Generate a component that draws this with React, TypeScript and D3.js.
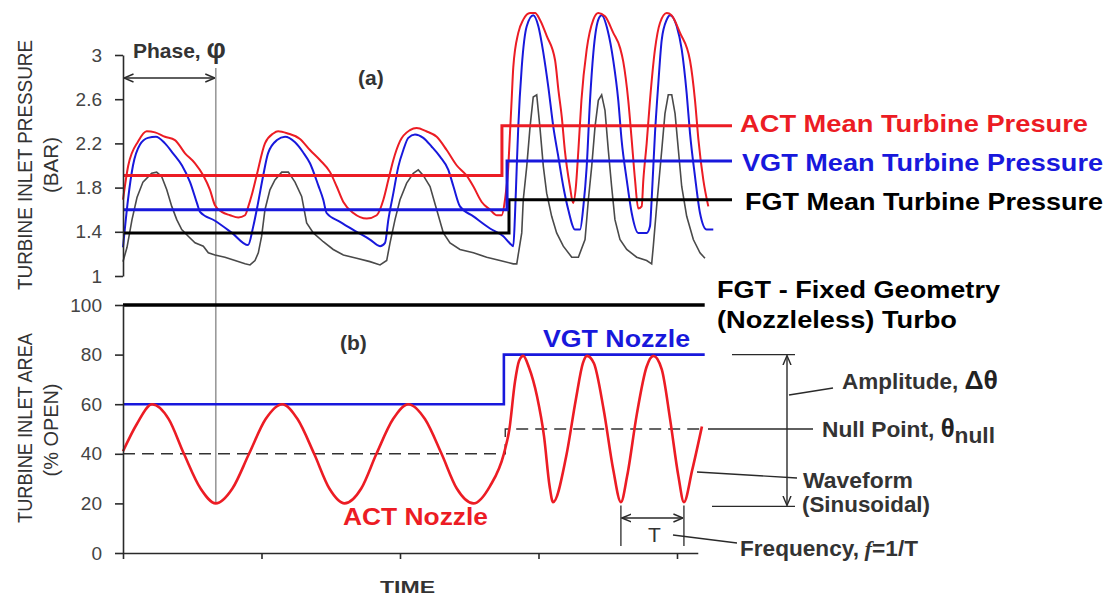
"use client"

import { useEffect, useRef } from "react"
import * as d3 from "d3"

type Pair = [number, number]

const WIDTH = 1115
const HEIGHT = 597
const FONT = "'Liberation Sans', Arial, Helvetica, sans-serif"
const RED = "#ec1c24"
const BLUE = "#1818dc"
const INK = "#2a2a2a"
const GRAY = "#4a4a4a"

const pressureTicks = [1, 1.4, 1.8, 2.2, 2.6, 3]
const areaTicks = [0, 20, 40, 60, 80, 100]
const timeTicks = [0, 1, 2, 3, 4]

// (a) turbine inlet pressure, [time, bar]
const actPressure: Pair[] = [
  [0, 1.69], [0.038, 2.0], [0.11, 2.22], [0.171, 2.31], [0.231, 2.3], [0.303, 2.26], [0.375, 2.23],
  [0.448, 2.11], [0.52, 2.02], [0.58, 1.91], [0.628, 1.78], [0.664, 1.64], [0.713, 1.58], [0.773, 1.55],
  [0.833, 1.53], [0.881, 1.55], [0.905, 1.63], [0.929, 1.73], [0.965, 1.91], [1.025, 2.2], [1.085, 2.29],
  [1.12, 2.31], [1.19, 2.29], [1.278, 2.24], [1.35, 2.14], [1.422, 2.05], [1.495, 1.94], [1.543, 1.81],
  [1.591, 1.67], [1.663, 1.57], [1.76, 1.52], [1.832, 1.55], [1.88, 1.69], [1.916, 1.87], [1.952, 2.05],
  [2.0, 2.22], [2.072, 2.32], [2.12, 2.34], [2.19, 2.31], [2.265, 2.26], [2.337, 2.14], [2.41, 2.0],
  [2.48, 1.91], [2.53, 1.81], [2.59, 1.67], [2.65, 1.6], [2.7, 1.55], [2.734, 1.55], [2.758, 1.69],
  [2.782, 1.99], [2.794, 2.29], [2.806, 2.59], [2.818, 2.89], [2.854, 3.2], [2.89, 3.32], [2.939, 3.38],
  [2.975, 3.38], [3.01, 3.32], [3.06, 3.17], [3.12, 2.95], [3.144, 2.68], [3.168, 2.44], [3.19, 2.14],
  [3.227, 1.81], [3.25, 1.66], [3.27, 1.81], [3.288, 2.14], [3.31, 2.59], [3.348, 3.05], [3.396, 3.32],
  [3.432, 3.38], [3.48, 3.35], [3.54, 3.2], [3.59, 3.06], [3.612, 2.94], [3.648, 2.59], [3.673, 2.23],
  [3.697, 1.87], [3.72, 1.61], [3.745, 1.63], [3.757, 1.87], [3.781, 2.2], [3.805, 2.59], [3.841, 3.05],
  [3.877, 3.29], [3.926, 3.38], [3.96, 3.36], [4.022, 3.2], [4.094, 2.95], [4.13, 2.59], [4.155, 2.23],
  [4.19, 1.87], [4.226, 1.63],
]

const vgtPressure: Pair[] = [
  [0, 1.26], [0.036, 1.69], [0.072, 2.0], [0.123, 2.19], [0.18, 2.25], [0.238, 2.26], [0.303, 2.2],
  [0.361, 2.11], [0.426, 2.0], [0.484, 1.85], [0.534, 1.66], [0.556, 1.58], [0.664, 1.5], [0.787, 1.39],
  [0.903, 1.28], [0.939, 1.44], [0.975, 1.66], [1.011, 1.9], [1.047, 2.11], [1.112, 2.23], [1.17, 2.26],
  [1.242, 2.21], [1.3, 2.12], [1.35, 2.02], [1.41, 1.82], [1.446, 1.69], [1.47, 1.57], [1.567, 1.49],
  [1.687, 1.4], [1.783, 1.33], [1.856, 1.27], [1.892, 1.3], [1.916, 1.51], [1.952, 1.75], [1.988, 1.99],
  [2.024, 2.14], [2.06, 2.25], [2.108, 2.28], [2.168, 2.25], [2.229, 2.17], [2.289, 2.08], [2.349, 1.96],
  [2.386, 1.81], [2.433, 1.63], [2.53, 1.54], [2.65, 1.43], [2.746, 1.36], [2.806, 1.28], [2.818, 1.27],
  [2.83, 1.54], [2.843, 1.99], [2.854, 2.35], [2.879, 2.89], [2.915, 3.26], [2.962, 3.36], [2.999, 3.26],
  [3.035, 3.02], [3.071, 2.71], [3.107, 2.35], [3.143, 2.08], [3.179, 1.81], [3.215, 1.6], [3.264, 1.42],
  [3.3, 1.42], [3.324, 1.63], [3.348, 1.99], [3.372, 2.59], [3.396, 3.02], [3.432, 3.32], [3.456, 3.36],
  [3.5, 3.22], [3.54, 2.95], [3.576, 2.59], [3.6, 2.23], [3.637, 1.87], [3.673, 1.57], [3.72, 1.39],
  [3.781, 1.39], [3.805, 1.45], [3.817, 1.69], [3.841, 2.29], [3.865, 2.74], [3.89, 3.14], [3.926, 3.32],
  [3.95, 3.36], [3.998, 3.26], [4.034, 3.05], [4.07, 2.65], [4.094, 2.29], [4.13, 1.9], [4.166, 1.57],
  [4.214, 1.42], [4.262, 1.42],
]

const fgtPressure: Pair[] = [
  [0, 1.13], [0.029, 1.26], [0.065, 1.51], [0.101, 1.71], [0.144, 1.85], [0.207, 1.93], [0.243, 1.94],
  [0.279, 1.9], [0.316, 1.78], [0.352, 1.63], [0.388, 1.51], [0.424, 1.42], [0.471, 1.36], [0.52, 1.3],
  [0.58, 1.27], [0.616, 1.21], [0.664, 1.19], [0.736, 1.17], [0.809, 1.14], [0.881, 1.11], [0.917, 1.1],
  [0.953, 1.14], [0.977, 1.21], [1.001, 1.36], [1.025, 1.6], [1.061, 1.78], [1.097, 1.87], [1.146, 1.94],
  [1.194, 1.94], [1.242, 1.85], [1.29, 1.72], [1.326, 1.48], [1.374, 1.39], [1.446, 1.31], [1.518, 1.24],
  [1.591, 1.19], [1.687, 1.16], [1.783, 1.13], [1.856, 1.1], [1.904, 1.14], [1.928, 1.3], [1.964, 1.51],
  [2.0, 1.69], [2.048, 1.84], [2.096, 1.93], [2.132, 1.96], [2.168, 1.91], [2.217, 1.81], [2.265, 1.6],
  [2.313, 1.39], [2.361, 1.3], [2.433, 1.24], [2.53, 1.21], [2.626, 1.17], [2.722, 1.14], [2.818, 1.11],
  [2.843, 1.11], [2.879, 1.39], [2.89, 1.69], [2.915, 1.99], [2.939, 2.35], [2.962, 2.62], [2.987, 2.64],
  [3.01, 2.35], [3.035, 1.99], [3.059, 1.75], [3.095, 1.54], [3.131, 1.39], [3.179, 1.27], [3.24, 1.17],
  [3.288, 1.17], [3.336, 1.33], [3.36, 1.69], [3.384, 1.99], [3.408, 2.35], [3.432, 2.59], [3.456, 2.64],
  [3.48, 2.5], [3.504, 2.14], [3.528, 1.81], [3.552, 1.51], [3.588, 1.33], [3.637, 1.24], [3.709, 1.17],
  [3.781, 1.14], [3.817, 1.11], [3.829, 1.27], [3.853, 1.63], [3.89, 2.14], [3.913, 2.47], [3.937, 2.64],
  [3.962, 2.64], [3.986, 2.47], [4.01, 2.14], [4.034, 1.81], [4.07, 1.54], [4.118, 1.33], [4.166, 1.21],
  [4.202, 1.16],
]

// mean pressures (step after)
const actMean: Pair[] = [[0, 1.91], [2.736, 2.36], [4.397, 2.36]]
const vgtMean: Pair[] = [[0, 1.6], [2.773, 2.04], [4.397, 2.04]]
const fgtMean: Pair[] = [[0, 1.39], [2.787, 1.69], [4.397, 1.69]]

// (b) turbine inlet area, [time, % open]
const fgtNozzle: Pair[] = [[0, 100], [4.2, 100]]
const vgtNozzle: Pair[] = [[0, 60], [2.75, 80], [4.2, 80]]
const nullPoint: Pair[] = [[0, 40], [2.76, 50], [4.2, 50]]
const actNozzle: Pair[] = [
  [0, 41], [0.1, 52], [0.21, 60], [0.33, 54], [0.44, 40], [0.56, 26], [0.67, 20], [0.79, 26], [0.91, 40],
  [1.03, 54], [1.15, 60], [1.26, 54], [1.38, 40], [1.49, 26], [1.6, 20], [1.72, 26], [1.83, 40], [1.95, 54],
  [2.06, 60], [2.18, 54], [2.3, 40], [2.41, 26], [2.53, 20], [2.65, 27], [2.75, 40], [2.79, 50], [2.83, 69],
  [2.86, 77.5], [2.89, 79.5], [2.93, 75], [2.99, 63], [3.04, 47], [3.08, 27], [3.105, 20.5], [3.2, 39],
  [3.27, 62], [3.32, 76.5], [3.35, 79.5], [3.4, 76.5], [3.47, 58], [3.54, 33.5], [3.595, 20.5], [3.64, 31],
  [3.71, 56], [3.78, 75], [3.83, 79.5], [3.89, 74], [3.95, 54], [4.01, 31], [4.05, 20.5], [4.11, 33.5],
  [4.18, 51],
]

export default function App() {
  const svgRef = useRef<SVGSVGElement | null>(null)

  useEffect(() => {
    if (!svgRef.current) return
    const svg = d3.select(svgRef.current)
    svg.selectAll("*").remove()

    const x = d3.scaleLinear().domain([0, 4]).range([123, 677])
    const yP = d3.scaleLinear().domain([1, 3]).range([276, 55])
    const yA = d3.scaleLinear().domain([0, 100]).range([553, 305])

    const defs = svg.append("defs")
    defs
      .append("marker")
      .attr("id", "arr")
      .attr("viewBox", "0 0 10 10")
      .attr("refX", 9.5)
      .attr("refY", 5)
      .attr("markerUnits", "userSpaceOnUse")
      .attr("markerWidth", 10)
      .attr("markerHeight", 10)
      .attr("orient", "auto-start-reverse")
      .append("path")
      .attr("d", "M0,1 L9.5,5 L0,9")
      .attr("fill", "none")
      .attr("stroke", INK)
      .attr("stroke-width", 1.4)

    const lineP = (curve: d3.CurveFactory) =>
      d3.line<Pair>().x((d) => x(d[0])).y((d) => yP(d[1])).curve(curve)
    const lineA = (curve: d3.CurveFactory) =>
      d3.line<Pair>().x((d) => x(d[0])).y((d) => yA(d[1])).curve(curve)

    const styleAxis = (g: d3.Selection<SVGGElement, unknown, null, undefined>) => {
      g.attr("font-family", FONT).attr("font-size", 19)
      g.select(".domain").attr("stroke", INK).attr("stroke-width", 1.6)
      g.selectAll(".tick line").attr("stroke", INK).attr("stroke-width", 1.6)
      g.selectAll(".tick text").attr("fill", "#444")
    }

    // phase marker line (behind curves)
    svg
      .append("line")
      .attr("x1", x(0.67))
      .attr("x2", x(0.67))
      .attr("y1", 68)
      .attr("y2", yA(20))
      .attr("stroke", "#9a9a9a")
      .attr("stroke-width", 1.6)

    // ---------- (a) pressure panel ----------
    const gP = svg.append("g")
    gP.append("path").datum(fgtPressure).attr("d", lineP(d3.curveLinear)).attr("fill", "none").attr("stroke", GRAY).attr("stroke-width", 1.6)
    gP.append("path").datum(vgtPressure).attr("d", lineP(d3.curveMonotoneX)).attr("fill", "none").attr("stroke", BLUE).attr("stroke-width", 2)
    gP.append("path").datum(actPressure).attr("d", lineP(d3.curveMonotoneX)).attr("fill", "none").attr("stroke", RED).attr("stroke-width", 2)
    gP.append("path").datum(fgtMean).attr("d", lineP(d3.curveStepAfter)).attr("fill", "none").attr("stroke", "#000").attr("stroke-width", 3)
    gP.append("path").datum(vgtMean).attr("d", lineP(d3.curveStepAfter)).attr("fill", "none").attr("stroke", BLUE).attr("stroke-width", 3)
    gP.append("path").datum(actMean).attr("d", lineP(d3.curveStepAfter)).attr("fill", "none").attr("stroke", RED).attr("stroke-width", 3)

    const yAxisP = d3
      .axisLeft(yP)
      .tickValues(pressureTicks)
      .tickFormat((d) => String(d))
      .tickSize(8)
      .tickSizeOuter(0)
      .tickPadding(13)
    gP.append("g").attr("transform", `translate(${x(0)},0)`).call(yAxisP).call(styleAxis)

    // ---------- (b) area panel ----------
    const gA = svg.append("g")
    gA.append("path").datum(nullPoint).attr("d", lineA(d3.curveStepAfter)).attr("fill", "none").attr("stroke", "#333").attr("stroke-width", 1.4).attr("stroke-dasharray", "12 7")
    gA.append("path").datum(fgtNozzle).attr("d", lineA(d3.curveLinear)).attr("fill", "none").attr("stroke", "#000").attr("stroke-width", 3.5)
    gA.append("path").datum(vgtNozzle).attr("d", lineA(d3.curveStepAfter)).attr("fill", "none").attr("stroke", BLUE).attr("stroke-width", 2.6)
    gA.append("path").datum(actNozzle).attr("d", lineA(d3.curveMonotoneX)).attr("fill", "none").attr("stroke", RED).attr("stroke-width", 2.6)

    const yAxisA = d3
      .axisLeft(yA)
      .tickValues(areaTicks)
      .tickFormat((d) => String(d))
      .tickSize(8)
      .tickSizeOuter(0)
      .tickPadding(13)
    gA.append("g").attr("transform", `translate(${x(0)},0)`).call(yAxisA).call(styleAxis)

    const xAxisScale = x.copy().domain([0, 4.15]).range([x(0), x(4.15)])
    const xAxis = d3.axisBottom(xAxisScale).tickValues(timeTicks).tickFormat(() => "").tickSize(6).tickSizeOuter(0)
    gA.append("g").attr("transform", `translate(0,${yA(0)})`).call(xAxis).call(styleAxis)

    // ---------- text helpers ----------
    const txt = (
      px: number,
      py: number,
      s: string,
      o: { size?: number; weight?: string; fill?: string; len?: number; anchor?: string; rotate?: boolean } = {},
    ) => {
      const t = svg
        .append("text")
        .attr("font-family", FONT)
        .attr("font-size", o.size ?? 20)
        .attr("font-weight", o.weight ?? "bold")
        .attr("fill", o.fill ?? INK)
        .attr("text-anchor", o.anchor ?? "start")
        .text(s)
      if (o.rotate) {
        t.attr("transform", `translate(${px},${py}) rotate(-90)`).attr("dominant-baseline", "central")
      } else {
        t.attr("x", px).attr("y", py)
      }
      if (o.len) t.attr("textLength", o.len).attr("lengthAdjust", "spacingAndGlyphs")
      return t
    }

    // axis titles
    txt(25, 165, "TURBINE INLET PRESSURE", { size: 20, weight: "normal", fill: "#333", anchor: "middle", rotate: true, len: 250 })
    txt(51, 165, "(BAR)", { size: 20, weight: "normal", fill: "#333", anchor: "middle", rotate: true, len: 56 })
    txt(25, 428, "TURBINE INLET AREA", { size: 20, weight: "normal", fill: "#333", anchor: "middle", rotate: true, len: 190 })
    txt(51, 430, "(% OPEN)", { size: 20, weight: "normal", fill: "#333", anchor: "middle", rotate: true, len: 93 })
    txt(380, 593, "TIME", { size: 16, fill: "#333", len: 55 })

    // panel tags
    txt(358, 85, "(a)", { size: 21, fill: "#333" })
    txt(340, 350, "(b)", { size: 21, fill: "#333" })

    // mean pressure labels
    txt(740, 132, "ACT Mean Turbine Presure", { size: 24, fill: RED, len: 348 })
    txt(742, 171, "VGT Mean Turbine Pressure", { size: 24, fill: BLUE, len: 361 })
    txt(745, 210, "FGT Mean Turbine Pressure", { size: 24, fill: "#000", len: 358 })

    // nozzle labels
    txt(717, 298, "FGT - Fixed Geometry", { size: 23, fill: "#000", len: 283 })
    txt(717, 328, "(Nozzleless) Turbo", { size: 23, fill: "#000", len: 240 })
    txt(543, 347, "VGT Nozzle", { size: 23, fill: BLUE, len: 147 })
    txt(343, 525, "ACT Nozzle", { size: 23, fill: RED, len: 145 })

    // phase annotation
    const ph = txt(133, 58, "Phase, ", { size: 21, fill: "#333" })
    ph.append("tspan").attr("font-size", 27).text("φ")
    svg
      .append("line")
      .attr("x1", x(0) + 1)
      .attr("x2", x(0.67) - 1)
      .attr("y1", 78)
      .attr("y2", 78)
      .attr("stroke", INK)
      .attr("stroke-width", 1.4)
      .attr("marker-start", "url(#arr)")
      .attr("marker-end", "url(#arr)")

    // amplitude / null / waveform annotations
    const seg = (x1: number, y1: number, x2: number, y2: number, w = 1.3, markers = false) => {
      const l = svg
        .append("line")
        .attr("x1", x1)
        .attr("y1", y1)
        .attr("x2", x2)
        .attr("y2", y2)
        .attr("stroke", INK)
        .attr("stroke-width", w)
      if (markers) l.attr("marker-start", "url(#arr)").attr("marker-end", "url(#arr)")
      return l
    }
    seg(732, yA(80), 795, yA(80))
    seg(712, yA(20) + 3, 795, yA(20) + 3)
    seg(787, yA(80) + 1, 787, yA(20) + 2, 1.4, true)
    seg(789, 395, 833, 388)
    seg(708, yA(50), 813, yA(50))
    seg(697, 472, 797, 478)
    // period T
    seg(x(3.595), yA(20) + 2, x(3.595), 546)
    seg(x(4.05), yA(20) + 2, x(4.05), 546)
    seg(x(3.595) + 1, 518, x(4.05) - 1, 518, 1.4, true)
    seg(673, 535, 737, 543)

    const amp = txt(842, 389, "Amplitude, ", { size: 22, fill: "#333" })
    amp.append("tspan").attr("font-size", 26).attr("fill", "#222").text("Δθ")
    amp.attr("textLength", 156).attr("lengthAdjust", "spacingAndGlyphs")
    const nul = txt(822, 437, "Null Point, ", { size: 22, fill: "#333" })
    nul.append("tspan").attr("font-size", 25).attr("fill", "#222").text("θ")
    nul.append("tspan").attr("font-size", 22).attr("dy", 6).text("null")
    nul.attr("textLength", 173).attr("lengthAdjust", "spacingAndGlyphs")
    txt(803, 488, "Waveform", { size: 22, fill: "#333", len: 110 })
    txt(802, 512, "(Sinusoidal)", { size: 22, fill: "#333", len: 128 })
    const fq = txt(740, 556, "Frequency,", { size: 22, fill: "#333" })
    fq.append("tspan").attr("font-style", "italic").attr("font-family", "'Liberation Serif', serif").text(" f")
    fq.append("tspan").text("=1/T")
    fq.attr("textLength", 178).attr("lengthAdjust", "spacingAndGlyphs")
    txt(648, 542, "T", { size: 21, weight: "normal", fill: "#333" })
  }, [])

  return (
    <svg
      ref={svgRef}
      width={WIDTH}
      height={HEIGHT}
      style={{ position: "absolute", left: 0, top: 0, background: "#fff" }}
    />
  )
}
